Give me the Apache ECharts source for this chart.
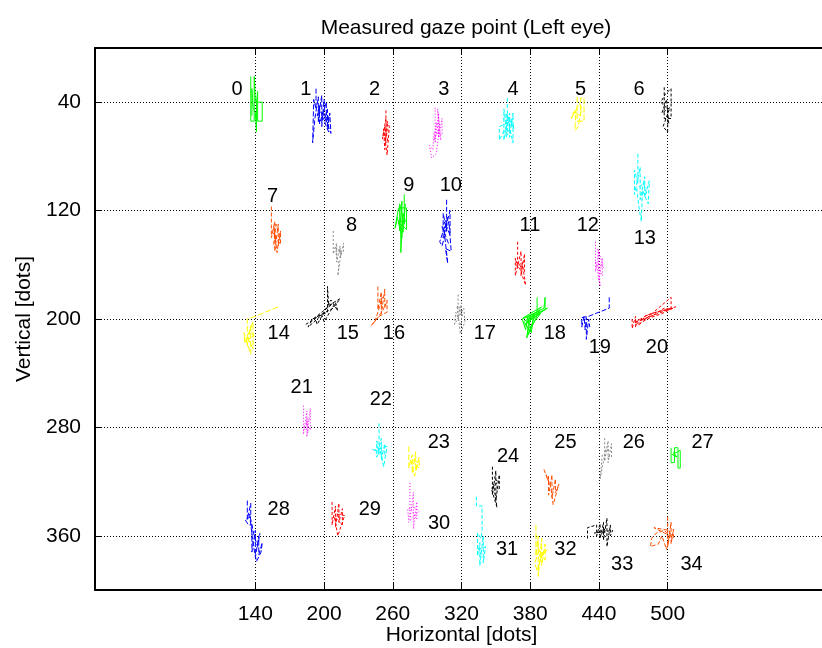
<!DOCTYPE html>
<html>
<head>
<meta charset="utf-8">
<title>Measured gaze point (Left eye)</title>
<script src="https://cdn.jsdelivr.net/npm/echarts@6/dist/echarts.min.js"></script>
<style>
  html, body { margin: 0; padding: 0; background: #fff; }
  #chart { width: 822px; height: 648px; }
</style>
</head>
<body>
<div id="chart"></div>
<script>
// Axis ticks (screen dots)
const xTicks = [140, 200, 260, 320, 380, 440, 500];
const yTicks = [40, 120, 200, 280, 360];

// Target numbers and where their labels sit
const targetNames = ['0','1','2','3','4','5','6','7','8','9','10','11','12','13','14','15','16',
  '17','18','19','20','21','22','23','24','25','26','27','28','29','30','31','32','33','34'];
const labelX = [124, 184, 244, 304.5, 365, 424, 475,
  155, 224, 274, 310.7, 379.7, 430.3, 480,
  160.4, 220.7, 261, 340.4, 401.5, 440.8, 490.6,
  180.5, 249.5, 300.2, 360.7, 410.8, 470.5, 530.5,
  160.4, 239.9, 300.4, 359.8, 410.8, 460.3, 520.9];
const labelY = [30.8, 30.8, 30.8, 30.8, 30.8, 30.8, 30.8,
  109.7, 131.1, 101.6, 101.6, 131.1, 131.1, 140.7,
  210.7, 210.7, 210.7, 210.7, 210.7, 221, 221,
  250.5, 259.4, 290.9, 301.4, 290.9, 290.9, 290.9,
  340.5, 340.5, 350.6, 370.2, 370.2, 381.1, 381.1];

// Gaze traces, one per target: [horizontal, vertical] in dots
const gaze0 = [[136,21],[136,54],[139,54],[139,21],[139.5,28],[140,40],[146,40],[146,54],[142,54],[142,32],[141,40],[141,62],[140,48],[138,44],[137,30],[137,50]];
const gaze1 = [[193,30],[193,45],[191,38],[190,70],[192,52],[195,36],[195,55],[197,40],[198,35],[198,58],[200,38],[201,52],[203,45],[203,60],[205,48],[206,63],[199,48],[194,50],[196,42],[196,56],[202,40],[202,55],[204,50],[204,62],[197,47]];
const gaze2 = [[254,46],[254,70],[252,60],[253,75],[255,55],[256,62],[253,65],[255,79],[257,58],[254,52],[251,67],[253,58],[256,70]];
const gaze3 = [[297,44],[297,70],[300,48],[300,66],[303,52],[303,64],[296,62],[295,75],[292,72],[294,81],[298,78],[301,58],[299,45],[302,68],[298,55],[296,68],[300,60]];
const gaze4 = [[360,37],[360,62],[357,45],[357,68],[362,48],[362,66],[365,48],[365,70],[361,55],[353,58],[353,68],[358,60],[363,52],[366,60],[359,48],[359,66],[364,55],[356,52]];
const gaze5 = [[421,36],[421,54],[427,54],[427,37],[424,37],[424,50],[418,47],[416,52],[420,46],[419,61],[422,58],[425,44],[423,41],[417,50]];
const gaze6 = [[497,29],[497,52],[503,52],[503,30],[498,34],[494,40],[500,45],[500,62],[496,58],[502,44],[495,48],[499,38],[501,56]];
const gaze7 = [[154,117],[154,140],[157,128],[157,150],[160,130],[160,146],[162,135],[162,145],[155,136],[158,142],[156,132],[159,151],[161,138],[158,130],[156,145]];
const gaze8 = [[208,135],[208,152],[211,144],[211,158],[214,146],[214,155],[217,144],[217,150],[210,150],[213,160],[212,168],[215,150],[209,147],[212,148],[216,153]];
const gaze9 = [[270,108],[270,130],[266,115],[266,135],[268,113],[268,140],[264,125],[262,133],[265,118],[272,118],[272,134],[267,130],[267,151],[269,122],[271,128],[265,128],[269,136],[271,115]];
const gaze10 = [[307,112],[307,135],[304,122],[304,140],[310,120],[310,138],[306,130],[301,143],[303,146],[309,128],[311,150],[306,148],[308,159],[305,136],[308,125],[303,132],[309,145]];
const gaze11 = [[369,143],[369,162],[367,155],[367,168],[372,150],[372,168],[375,152],[375,165],[370,160],[373,158],[376,175],[371,163],[368,160],[374,162]];
const gaze12 = [[437,143],[437,165],[440,150],[440,172],[443,155],[443,168],[438,160],[441,176],[439,148],[444,162],[436,158],[442,160]];
const gaze13 = [[474,78],[474,100],[471,90],[471,108],[476,88],[476,112],[480,95],[480,110],[484,98],[483,115],[478,105],[477,128],[475,118],[473,104],[479,100],[482,108]];
const gaze14 = [[160,191],[140,198],[133,200],[133,220],[136,205],[136,226],[130,210],[131,218],[138,202],[138,222],[134,215],[139,212],[135,208]];
const gaze15 = [[184,204],[195,198],[203,195],[203,176],[204,190],[214,185],[208,192],[190,200],[186,206],[198,197],[200,202],[210,188],[212,194],[206,186],[194,204],[192,199],[207,189],[201,193]];
const gaze16 = [[247,176],[247,193],[250,180],[250,196],[253,178],[253,192],[255,186],[255,195],[248,198],[241,205],[246,200],[252,193],[249,186],[251,184],[244,203]];
const gaze17 = [[317,182],[317,200],[320,188],[320,206],[315,195],[314,204],[318,198],[322,192],[323,202],[319,211],[316,190],[321,198],[318,190]];
const gaze18 = [[386,184],[386,195],[373,200],[376,208],[378,198],[392,192],[393,184],[393,193],[380,201],[377,214],[379,199],[395,192],[374,202],[381,210],[383,196],[375,205],[388,194],[378,212],[384,198],[374,199],[390,191],[376,203],[389,196],[379,207]];
const gaze19 = [[449,184],[449,192],[431,198],[425,199],[425,206],[427,198],[428,208],[429,199],[429,215],[431,200],[432,206]];
const gaze20 = [[469,200],[469,207],[472,198],[472,206],[475,200],[475,205],[480,198],[490,195],[500,193],[507,191],[495,196],[485,199],[478,202],[503,184],[503,193],[497,192],[488,197],[471,203],[482,197],[494,194],[504,192],[476,201]];
const gaze21 = [[182,264],[182,285],[185,268],[185,287],[188,266],[188,282],[184,276],[187,274],[183,280],[186,284],[185,272]];
const gaze22 = [[248,277],[248,300],[246,290],[246,302],[250,288],[250,304],[253,292],[253,300],[242,296],[244,297],[255,294],[252,309],[249,296],[251,292]];
const gaze23 = [[274,294],[274,310],[277,300],[277,314],[280,298],[280,312],[283,302],[283,310],[276,305],[279,316],[282,306],[278,304]];
const gaze24 = [[347,309],[347,330],[350,312],[350,334],[353,315],[353,326],[348,322],[351,339],[346,325],[352,320],[349,318]];
const gaze25 = [[392,311],[395,318],[396,316],[396,330],[399,315],[399,332],[402,318],[402,328],[405,322],[400,337],[398,324],[394,315],[397,322]];
const gaze26 = [[445,288],[445,305],[448,290],[448,306],[451,292],[451,302],[443,300],[441,318],[446,296],[449,298],[447,294]];
const gaze27 = [[503,295],[503,306],[506,306],[506,295],[509,295],[509,310],[511,310],[511,297],[504,300],[508,302],[505,298]];
const gaze28 = [[133,334],[133,348],[136,336],[136,346],[131,348],[134,352],[137,352],[137,372],[140,356],[140,376],[143,360],[143,374],[146,365],[145,372],[141,379],[138,366],[135,344],[139,360],[142,368],[144,358]];
const gaze29 = [[207,335],[207,352],[210,338],[210,354],[213,336],[213,350],[216,340],[216,352],[209,346],[212,360],[218,345],[211,344],[214,348]];
const gaze30 = [[275,321],[275,348],[278,328],[278,355],[281,335],[281,348],[276,340],[273,340],[274,350],[279,345],[283,342],[277,338]];
const gaze31 = [[333,331],[333,338],[338,338],[338,356],[337,362],[334,358],[334,375],[336,365],[336,382],[339,360],[339,380],[341,368],[335,370],[337,374]];
const gaze32 = [[385,352],[385,375],[387,360],[387,390],[390,362],[390,382],[393,366],[393,378],[388,370],[384,380],[386,386],[391,372],[395,370],[389,376],[386,365]];
const gaze33 = [[430,362],[430,354],[438,352],[438,360],[441,351],[441,362],[444,350],[444,363],[447,347],[447,368],[450,352],[450,360],[452,356],[436,358],[443,357],[446,354],[442,359]];
const gaze34 = [[500,346],[500,368],[503,350],[503,366],[505,355],[505,362],[497,356],[490,358],[486,362],[485,368],[492,366],[495,360],[499,370],[502,360],[488,354],[501,356],[504,362]];

const gazeTraces = [gaze0, gaze1, gaze2, gaze3, gaze4, gaze5, gaze6, gaze7, gaze8, gaze9,
  gaze10, gaze11, gaze12, gaze13, gaze14, gaze15, gaze16, gaze17, gaze18, gaze19,
  gaze20, gaze21, gaze22, gaze23, gaze24, gaze25, gaze26, gaze27, gaze28, gaze29,
  gaze30, gaze31, gaze32, gaze33, gaze34];

// Line colours and dash patterns repeat every nine targets
const lineColors = ['#00ff00', '#0000ff', '#ff0000', '#ff00ff', '#00ffff', '#ffff00', '#000000', '#ff4d00', '#8a8a8a'];
const lineDashes = ['solid', [5, 2], [3, 2], [1, 2], [4, 2], [6, 2], [3, 2], [4, 2], [2, 2]];

const FONT = "'Liberation Sans', Arial, Helvetica, sans-serif";

const chart = echarts.init(document.getElementById('chart'), null, { renderer: 'canvas' });

const series = gazeTraces.map((trace, i) => ({
  name: 'target ' + i,
  type: 'line',
  data: trace,
  showSymbol: false,
  symbol: 'none',
  silent: true,
  animation: false,
  lineStyle: { color: lineColors[i % 9], width: 1, type: lineDashes[i % 9] },
  z: 3
}));

// Target numbers written next to each cluster
series.push({
  name: 'labels',
  type: 'scatter',
  silent: true,
  animation: false,
  symbol: 'circle',
  symbolSize: 1,
  itemStyle: { color: 'rgba(0,0,0,0)', opacity: 1 },
  data: targetNames.map((n, i) => ({ name: n, value: [labelX[i], labelY[i]] })),
  label: {
    show: true,
    position: 'inside',
    formatter: p => p.name,
    color: '#000',
    opacity: 1,
    fontFamily: FONT,
    fontSize: 20
  },
  labelLayout: { hideOverlap: false },
  z: 4
});

const axisLineStyle = { color: '#000', width: 2 };

chart.setOption({
  backgroundColor: '#fff',
  animation: false,
  title: {
    text: 'Measured gaze point (Left eye)',
    left: 461,
    top: 13,
    textAlign: 'center',
    textStyle: { fontFamily: FONT, fontSize: 21, fontWeight: 'normal', color: '#000' }
  },
  grid: { left: 95, top: 48, width: 733, height: 542, containLabel: false, outerBoundsMode: 'none' },
  xAxis: [{
    type: 'value',
    min: 0,
    max: 640,
    position: 'bottom',
    name: 'Horizontal [dots]',
    nameLocation: 'middle',
    nameGap: 35,
    nameMoveOverlap: false,
    nameTextStyle: { fontFamily: FONT, fontSize: 21, color: '#000' },
    axisLine: { show: true, onZero: false, lineStyle: axisLineStyle },
    axisTick: { show: true, inside: true, length: 7, customValues: xTicks, lineStyle: { color: '#000', width: 1 } },
    axisLabel: { show: true, customValues: xTicks, margin: 14, fontFamily: FONT, fontSize: 21, color: '#000' },
    splitLine: { show: true, lineStyle: { color: '#000', width: 1, type: [1, 2] } }
  }, {
    type: 'value',
    min: 0,
    max: 640,
    position: 'top',
    axisLine: { show: true, onZero: false, lineStyle: axisLineStyle },
    axisTick: { show: true, inside: true, length: 7, customValues: xTicks, lineStyle: { color: '#000', width: 1 } },
    axisLabel: { show: false },
    splitLine: { show: false }
  }],
  yAxis: {
    type: 'value',
    min: 0,
    max: 400,
    inverse: true,
    name: 'Vertical [dots]',
    nameLocation: 'middle',
    nameGap: 60,
    nameMoveOverlap: false,
    nameTextStyle: { fontFamily: FONT, fontSize: 21, color: '#000' },
    axisLine: { show: true, onZero: false, lineStyle: axisLineStyle },
    axisTick: { show: true, inside: true, length: 7, customValues: yTicks, lineStyle: { color: '#000', width: 1 } },
    axisLabel: { show: true, customValues: yTicks, margin: 14, align: 'right', fontFamily: FONT, fontSize: 21, color: '#000' },
    splitLine: { show: true, lineStyle: { color: '#000', width: 1, type: [1, 2] } }
  },
  series: series
});
</script>
</body>
</html>
